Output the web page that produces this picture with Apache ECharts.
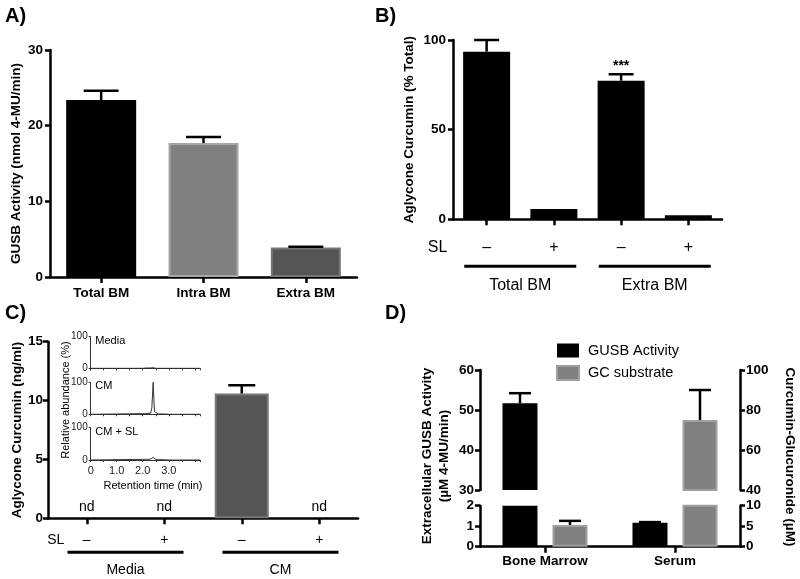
<!DOCTYPE html>
<html><head><meta charset="utf-8">
<script src="https://cdn.jsdelivr.net/npm/echarts@6/dist/echarts.min.js"></script>
<style>html,body{margin:0;padding:0;background:#fff}#c{width:800px;height:579px}</style>
</head><body><div id="c"></div><script>
// ---------- DATA ----------
const aCategories = ['Total BM', 'Intra BM', 'Extra BM'];
const aValues = [23.4, 17.7, 3.9];
const aErrors = [1.2, 0.8, 0.1];

const bCategories = ['–', '+', '–', '+'];
const bGroups = ['Total BM', 'Extra BM'];
const bValues = [93.5, 5.7, 77.3, 2.2];
const bErrors = [6.5, 0, 3.6, 0];
const bSignif = ['', '', '***', ''];

const cCategories = ['–', '+', '–', '+'];
const cGroups = ['Media', 'CM'];
const cValues = [0, 0, 10.6, 0];
const cErrors = [0, 0, 0.7, 0];
const cDetected = [false, false, true, false];

const insetTime  = [0, 2.0, 2.1, 2.2, 2.3, 2.35, 2.4, 2.45, 2.5, 2.6, 2.8, 3.0, 3.5, 4.2];
const insetMedia = [0, 0, 1, 1, 1, 1, 2, 1, 0, 0, 0, 0, 0, 0];
const insetCM    = [0, 2, 2, 3, 3, 20, 100, 8, 3, 1, 1, 0, 0, 0];
const insetCMSL  = [0, 2, 2, 2, 3, 5, 8, 4, 2, 1, 1, 0, 0, 0];
const insetTraces = ['Media', 'CM', 'CM + SL'];

const dCategories = ['Bone Marrow', 'Serum'];
const dGusb = [51.7, 1.17];
const dGusbErr = [2.5, 0.03];
const dGc = [5.3, 75];
const dGcErr = [1.0, 15];

// ---------- STYLE ----------
const F = "'Liberation Sans', Arial, Helvetica, sans-serif";
const axLine = { show: true, lineStyle: { color: '#000', width: 2.5 } };
const axTickY = { show: true, length: 5, lineStyle: { color: '#000', width: 2.5 } };
const axTickX = { show: true, length: 6, alignWithLabel: true, lineStyle: { color: '#000', width: 2.5 } };
const boldLbl = (m) => ({ fontFamily: F, fontWeight: 'bold', fontSize: 13.5, color: '#000', margin: m });
const nameStyle = { fontFamily: F, fontWeight: 'bold', fontSize: 13.5, color: '#000' };
const aFill = ['#000000', '#808080', '#555555'];
const aBorder = ['#000000', '#a6a6a6', '#767676'];

function errSeries(xi, yi, vals, errs, offset, capW, lo, hi) {
  return {
    type: 'custom', xAxisIndex: xi, yAxisIndex: yi, z: 5, silent: true,
    data: vals.map((v, i) => [i, v, v + errs[i], errs[i]]),
    renderItem(params, api) {
      const v = api.value(1), e = api.value(3);
      if (!(e > 0) || v < lo || v > hi) return { type: 'group', children: [] };
      const p0 = api.coord([api.value(0), v]);
      const p1 = api.coord([api.value(0), api.value(2)]);
      const x = p0[0] + offset;
      const st = { stroke: '#000', lineWidth: 2.5 };
      return { type: 'group', children: [
        { type: 'line', shape: { x1: x, y1: p0[1], x2: x, y2: p1[1] }, style: st },
        { type: 'line', shape: { x1: x - capW / 2, y1: p1[1], x2: x + capW / 2, y2: p1[1] }, style: st }
      ] };
    }
  };
}

const insetGridTops = [336.7, 382.3, 427.7];
const insetData = [insetMedia, insetCM, insetCMSL];

const option = {
  animation: false,
  textStyle: { fontFamily: F },
  grid: [
    { left: 50, top: 50, width: 307, height: 227 },           // A
    { left: 453, top: 40, width: 269, height: 179.3 },        // B
    { left: 48, top: 341.7, width: 310, height: 176.6 },      // C
    { left: 90.7, top: insetGridTops[0], width: 109.3, height: 31.6 },
    { left: 90.7, top: insetGridTops[1], width: 109.3, height: 32 },
    { left: 90.7, top: insetGridTops[2], width: 109.3, height: 32.3 },
    { left: 480, top: 370, width: 260, height: 120 },         // D top
    { left: 480, top: 505.7, width: 260, height: 41 }         // D bottom
  ],
  legend: {
    data: ['GUSB Activity', 'GC substrate'], orient: 'vertical', left: 556, top: 343,
    itemWidth: 22, itemHeight: 14, itemGap: 7, padding: 0, icon: 'rect', selectedMode: false,
    textStyle: { fontFamily: F, fontSize: 14.5, color: '#000', padding: [0, 0, 0, 4] }
  },
  xAxis: [
    { gridIndex: 0, type: 'category', data: aCategories, axisLine: axLine, axisTick: axTickX, axisLabel: boldLbl(9) },
    { gridIndex: 1, type: 'category', data: bCategories, axisLine: axLine, axisTick: axTickX,
      axisLabel: { fontFamily: F, fontSize: 16, color: '#000', margin: 20 } },
    { gridIndex: 2, type: 'category', data: cCategories, axisLine: axLine, axisTick: axTickX,
      axisLabel: { fontFamily: F, fontSize: 14, color: '#000', margin: 15 } },
    ...[0, 1, 2].map(k => ({
      gridIndex: 3 + k, type: 'value', min: 0, max: 4.2, interval: 0.5,
      axisLine: { show: true, lineStyle: { color: '#333', width: 1 } },
      axisTick: { show: true, length: 2, lineStyle: { color: '#333', width: 1 } },
      splitLine: { show: false },
      axisLabel: { show: k === 2, fontFamily: F, fontSize: 11, color: '#222', margin: 5,
        formatter: v => (Math.abs(v - Math.round(v)) < 1e-6 && v <= 3) ? (v === 0 ? '0' : v.toFixed(1)) : '' }
    })),
    { gridIndex: 6, type: 'category', data: dCategories, show: false },
    { gridIndex: 7, type: 'category', data: dCategories, axisLine: axLine, axisTick: axTickX, axisLabel: boldLbl(8) }
  ],
  yAxis: [
    { gridIndex: 0, type: 'value', min: 0, max: 30, interval: 10, axisLine: axLine, axisTick: axTickY,
      splitLine: { show: false }, axisLabel: boldLbl(7),
      name: 'GUSB Activity (nmol 4-MU/min)', nameLocation: 'middle', nameGap: 27, nameTextStyle: nameStyle },
    { gridIndex: 1, type: 'value', min: 0, max: 100, interval: 50, axisLine: axLine, axisTick: axTickY,
      splitLine: { show: false }, axisLabel: boldLbl(7),
      name: 'Aglycone Curcumin (% Total)', nameLocation: 'middle', nameGap: 37, nameTextStyle: nameStyle },
    { gridIndex: 2, type: 'value', min: 0, max: 15, interval: 5, axisLine: axLine, axisTick: axTickY,
      splitLine: { show: false }, axisLabel: boldLbl(5),
      name: 'Aglycone Curcumin (ng/ml)', nameLocation: 'middle', nameGap: 24, nameTextStyle: nameStyle },
    ...[0, 1, 2].map(k => ({
      gridIndex: 3 + k, type: 'value', min: 0, max: 100, interval: 100,
      axisLine: { show: true, lineStyle: { color: '#333', width: 1 } },
      axisTick: { show: true, length: 2, lineStyle: { color: '#333', width: 1 } },
      splitLine: { show: false },
      axisLabel: { fontFamily: F, fontSize: 10, color: '#222', margin: 3 }
    })),
    { gridIndex: 6, type: 'value', min: 30, max: 60, interval: 10, axisLine: axLine, axisTick: axTickY,
      splitLine: { show: false }, axisLabel: boldLbl(6) },
    { gridIndex: 6, type: 'value', position: 'right', min: 40, max: 100, interval: 20, axisLine: axLine, axisTick: axTickY,
      splitLine: { show: false }, axisLabel: boldLbl(6) },
    { gridIndex: 7, type: 'value', min: 0, max: 2, interval: 1, axisLine: axLine, axisTick: axTickY,
      splitLine: { show: false }, axisLabel: boldLbl(6) },
    { gridIndex: 7, type: 'value', position: 'right', min: 0, max: 10, interval: 5, axisLine: axLine, axisTick: axTickY,
      splitLine: { show: false }, axisLabel: boldLbl(6) }
  ],
  series: [
    { type: 'bar', xAxisIndex: 0, yAxisIndex: 0, barWidth: 70,
      data: aValues.map((v, i) => ({ value: v, itemStyle: { color: aFill[i], borderColor: aBorder[i], borderWidth: i ? 2 : 0 } })) },
    errSeries(0, 0, aValues, aErrors, 0, 35, 0, 30),
    { type: 'bar', xAxisIndex: 1, yAxisIndex: 1, barWidth: 47, itemStyle: { color: '#000' },
      data: bValues,
      label: { show: true, position: 'top', distance: 8, fontFamily: F, fontSize: 14, fontWeight: 'bold', color: '#000',
        formatter: p => bSignif[p.dataIndex] } },
    errSeries(1, 1, bValues, bErrors, 0, 25, 0, 100),
    { type: 'bar', xAxisIndex: 2, yAxisIndex: 2, barWidth: 54,
      data: cValues.map((v, i) => ({ value: v, itemStyle: { color: '#555555', borderColor: '#777777', borderWidth: v > 0 ? 2 : 0 } })),
      label: { show: true, position: 'top', distance: 4, fontFamily: F, fontSize: 14, color: '#000',
        formatter: p => cDetected[p.dataIndex] ? '' : 'nd' } },
    errSeries(2, 2, cValues, cErrors, 0, 27, 0, 15),
    ...[0, 1, 2].map(k => ({
      type: 'line', xAxisIndex: 3 + k, yAxisIndex: 3 + k, showSymbol: false, silent: true,
      lineStyle: { color: '#333', width: 1 },
      data: insetTime.map((t, i) => [t, insetData[k][i]])
    })),
    { name: 'GUSB Activity', type: 'bar', xAxisIndex: 6, yAxisIndex: 6, barWidth: 35, barGap: '43%', clip: true,
      itemStyle: { color: '#000' }, data: dGusb },
    { name: 'GC substrate', type: 'bar', xAxisIndex: 6, yAxisIndex: 7, barWidth: 35, barGap: '43%', clip: true,
      itemStyle: { color: '#808080', borderColor: '#a0a0a0', borderWidth: 2 }, data: dGc },
    { name: 'GUSB Activity', type: 'bar', xAxisIndex: 7, yAxisIndex: 8, barWidth: 35, barGap: '43%', clip: true,
      itemStyle: { color: '#000' }, data: dGusb },
    { name: 'GC substrate', type: 'bar', xAxisIndex: 7, yAxisIndex: 9, barWidth: 35, barGap: '43%', clip: true,
      itemStyle: { color: '#808080', borderColor: '#a0a0a0', borderWidth: 2 }, data: dGc },
    errSeries(6, 6, dGusb, dGusbErr, -25, 22, 30, 60),
    errSeries(6, 7, dGc, dGcErr, 25, 22, 40, 100),
    errSeries(7, 8, dGusb, dGusbErr, -25, 22, 0, 2),
    errSeries(7, 9, dGc, dGcErr, 25, 22, 0, 10)
  ]
};

const chart = echarts.init(document.getElementById('c'), null, { renderer: 'canvas' });
chart.setOption(option);

// ---------- annotations placed from axis coordinates ----------
const P = (g, c, v) => chart.convertToPixel({ gridIndex: g }, [c, v]);
const gr = [];
const txt = (x, y, t, o) => gr.push(Object.assign({ type: 'text', x, y,
  style: Object.assign({ text: t, fontFamily: F, fontSize: 14, fill: '#000', textAlign: 'center', textVerticalAlign: 'middle' }, o || {}) }));
const hline = (x1, x2, y, w) => gr.push({ type: 'line', shape: { x1, y1: y, x2, y2: y }, style: { stroke: '#000', lineWidth: w } });

// panel letters
txt(5, 16, 'A)', { fontSize: 20, fontWeight: 'bold', textAlign: 'left' });
txt(375, 16, 'B)', { fontSize: 20, fontWeight: 'bold', textAlign: 'left' });
txt(5, 313, 'C)', { fontSize: 20, fontWeight: 'bold', textAlign: 'left' });
txt(385, 313, 'D)', { fontSize: 20, fontWeight: 'bold', textAlign: 'left' });

// B: SL row + groups
{
  const b0 = P(1, 0, 0);
  txt(b0[0] - 49, b0[1] + 28, 'SL', { fontSize: 16 });
  bGroups.forEach((name, gi) => {
    const l = P(1, gi * 2, 0)[0], r = P(1, gi * 2 + 1, 0)[0];
    const cx = (l + r) / 2;
    hline(cx - 56, cx + 56, b0[1] + 47, 3);
    txt(cx, b0[1] + 66, name, { fontSize: 16 });
  });
}
// C: SL row + groups
{
  const c0 = P(2, 0, 0);
  txt(c0[0] - 31, c0[1] + 22, 'SL', { fontSize: 14 });
  cGroups.forEach((name, gi) => {
    const l = P(2, gi * 2, 0)[0], r = P(2, gi * 2 + 1, 0)[0];
    const cx = (l + r) / 2;
    hline(cx - 58, cx + 58, c0[1] + 34, 3);
    txt(cx, c0[1] + 52, name, { fontSize: 14 });
  });
}
// inset labels
insetTraces.forEach((t, k) => {
  const p = P(3 + k, 0.1, 100);
  txt(p[0] + 2, p[1] + 4, t, { fontSize: 11, textAlign: 'left' });
});
txt(153, 486, 'Retention time (min)', { fontSize: 11 });
gr.push({ type: 'text', x: 66, y: 400, rotation: Math.PI / 2,
  style: { text: 'Relative abundance (%)', fontFamily: F, fontSize: 11, fill: '#000', textAlign: 'center', textVerticalAlign: 'middle' } });
// D axis titles
gr.push({ type: 'text', x: 436, y: 456, rotation: Math.PI / 2,
  style: { text: 'Extracellular GUSB Activity\n(µM 4-MU/min)', fontFamily: F, fontSize: 13.5, fontWeight: 'bold', lineHeight: 17,
    fill: '#000', textAlign: 'center', textVerticalAlign: 'middle' } });
gr.push({ type: 'text', x: 790, y: 457, rotation: -Math.PI / 2,
  style: { text: 'Curcumin-Glucuronide (µM)', fontFamily: F, fontSize: 13.5, fontWeight: 'bold',
    fill: '#000', textAlign: 'center', textVerticalAlign: 'middle' } });

chart.setOption({ graphic: gr });
</script></body></html>
